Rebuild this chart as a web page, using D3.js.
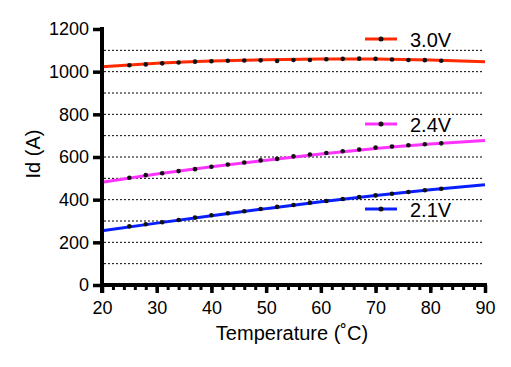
<!DOCTYPE html>
<html><head><meta charset="utf-8">
<script src="https://cdn.jsdelivr.net/npm/d3@7"></script>
<style>body{margin:0;background:#fff}svg{display:block}text{font-family:"Liberation Sans",Arial,sans-serif;fill:#000}</style>
</head><body><svg id="c" width="511" height="367"></svg>
<script>
const temps = [25,28,31,34,37,40,43,46,49,52,55,58,61,64,67,70,73,76,79,82];
const v30 = [1030,1034,1039,1043,1047,1049,1051,1052,1053,1050,1055,1055,1058,1060,1061,1060,1057,1055,1054,1051];
const v24 = [503,515,524,534,543,554,565,574,584,591,603,612,619,627,635,644,649,655,660,664];
const v21 = [275,285,294,305,316,327,336,346,356,366,375,386,394,403,412,420,428,436,444,451];
const fitT = [20,30,40,50,60,70,80,90];
const fit30 = [1023,1039,1050,1056,1059,1059,1055,1047];
const fit24 = [482,520,554,585,614,640,661,678];
const fit21 = [254,290,325,358,390,419,446,470];
const labels = ["3.0V","2.4V","2.1V"];
const colors = ["#ff2a00","#ff33ff","#0a1fff"];
const xTicks = [20,30,40,50,60,70,80,90];
const yTicks = [0,200,400,600,800,1000,1200];
const gridVals = [100,200,300,400,500,600,700,800,900,1000,1100];

const svg = d3.select("#c");
const x = d3.scaleLinear().domain([20,90]).range([102,485]);
const y = d3.scaleLinear().domain([0,1200]).range([285,29]);

// grid
svg.append("g").selectAll("line").data(gridVals).join("line")
  .attr("x1",104).attr("x2",483).attr("y1",d=>y(d)).attr("y2",d=>y(d))
  .attr("stroke","#000").attr("stroke-width",1).attr("stroke-dasharray","2,2");

const series = [
  {fit:fit30, pts:v30, c:colors[0], lab:labels[0], ly:39},
  {fit:fit24, pts:v24, c:colors[1], lab:labels[1], ly:124},
  {fit:fit21, pts:v21, c:colors[2], lab:labels[2], ly:209}
];
const line = d3.line().x(d=>x(d[0])).y(d=>y(d[1])).curve(d3.curveNatural);
series.forEach(s=>{
  svg.append("path").attr("d", line(fitT.map((t,i)=>[t,s.fit[i]])))
    .attr("fill","none").attr("stroke",s.c).attr("stroke-width",3);
  svg.append("g").selectAll("circle").data(temps).join("circle")
    .attr("cx",d=>x(d)).attr("cy",(d,i)=>y(s.pts[i])).attr("r",2.3).attr("fill","#111");
  // legend
  svg.append("line").attr("x1",365).attr("x2",397).attr("y1",s.ly).attr("y2",s.ly)
    .attr("stroke",s.c).attr("stroke-width",3);
  svg.append("circle").attr("cx",381).attr("cy",s.ly).attr("r",2.5).attr("fill","#111");
  svg.append("text").attr("x",410).attr("y",s.ly+7.5).attr("font-size",20).text(s.lab);
});

// x axis
const xMinor = d3.range(20,91,2);
const xa = svg.append("g").attr("transform","translate(0,285)");
xa.call(d3.axisBottom(x).tickValues(xMinor).tickSize(5).tickFormat(""));
xa.select(".domain").remove();
xa.selectAll(".tick line").attr("stroke","#000").attr("stroke-width",3);
const xb = svg.append("g").attr("transform","translate(0,285)");
xb.call(d3.axisBottom(x).tickValues(xTicks).tickSize(8).tickPadding(8).tickFormat(d3.format("d")));
xb.select(".domain").remove();
xb.selectAll(".tick line").attr("stroke","#000").attr("stroke-width",3.5);
xb.selectAll(".tick text").attr("font-size",18).attr("font-family","Liberation Sans, Arial, sans-serif").attr("fill","#000");
svg.append("line").attr("x1",100).attr("x2",487).attr("y1",285).attr("y2",285).attr("stroke","#000").attr("stroke-width",4);

// y axis
const ya = svg.append("g").attr("transform","translate(102,0)");
ya.call(d3.axisLeft(y).tickValues(yTicks).tickSize(9).tickPadding(4).tickFormat(d3.format("d")));
ya.select(".domain").remove();
ya.selectAll(".tick line").attr("stroke","#000").attr("stroke-width",3.5);
ya.selectAll(".tick text").attr("font-size",18).attr("font-family","Liberation Sans, Arial, sans-serif").attr("fill","#000");
svg.append("line").attr("x1",102).attr("x2",102).attr("y1",27).attr("y2",293).attr("stroke","#000").attr("stroke-width",4);

// titles
svg.append("text").attr("x",292).attr("y",340).attr("text-anchor","middle").attr("font-size",20).text("Temperature (˚C)");
svg.append("text").attr("transform","translate(40,154) rotate(-90)").attr("text-anchor","middle").attr("font-size",20).text("Id (A)");
</script></body></html>
